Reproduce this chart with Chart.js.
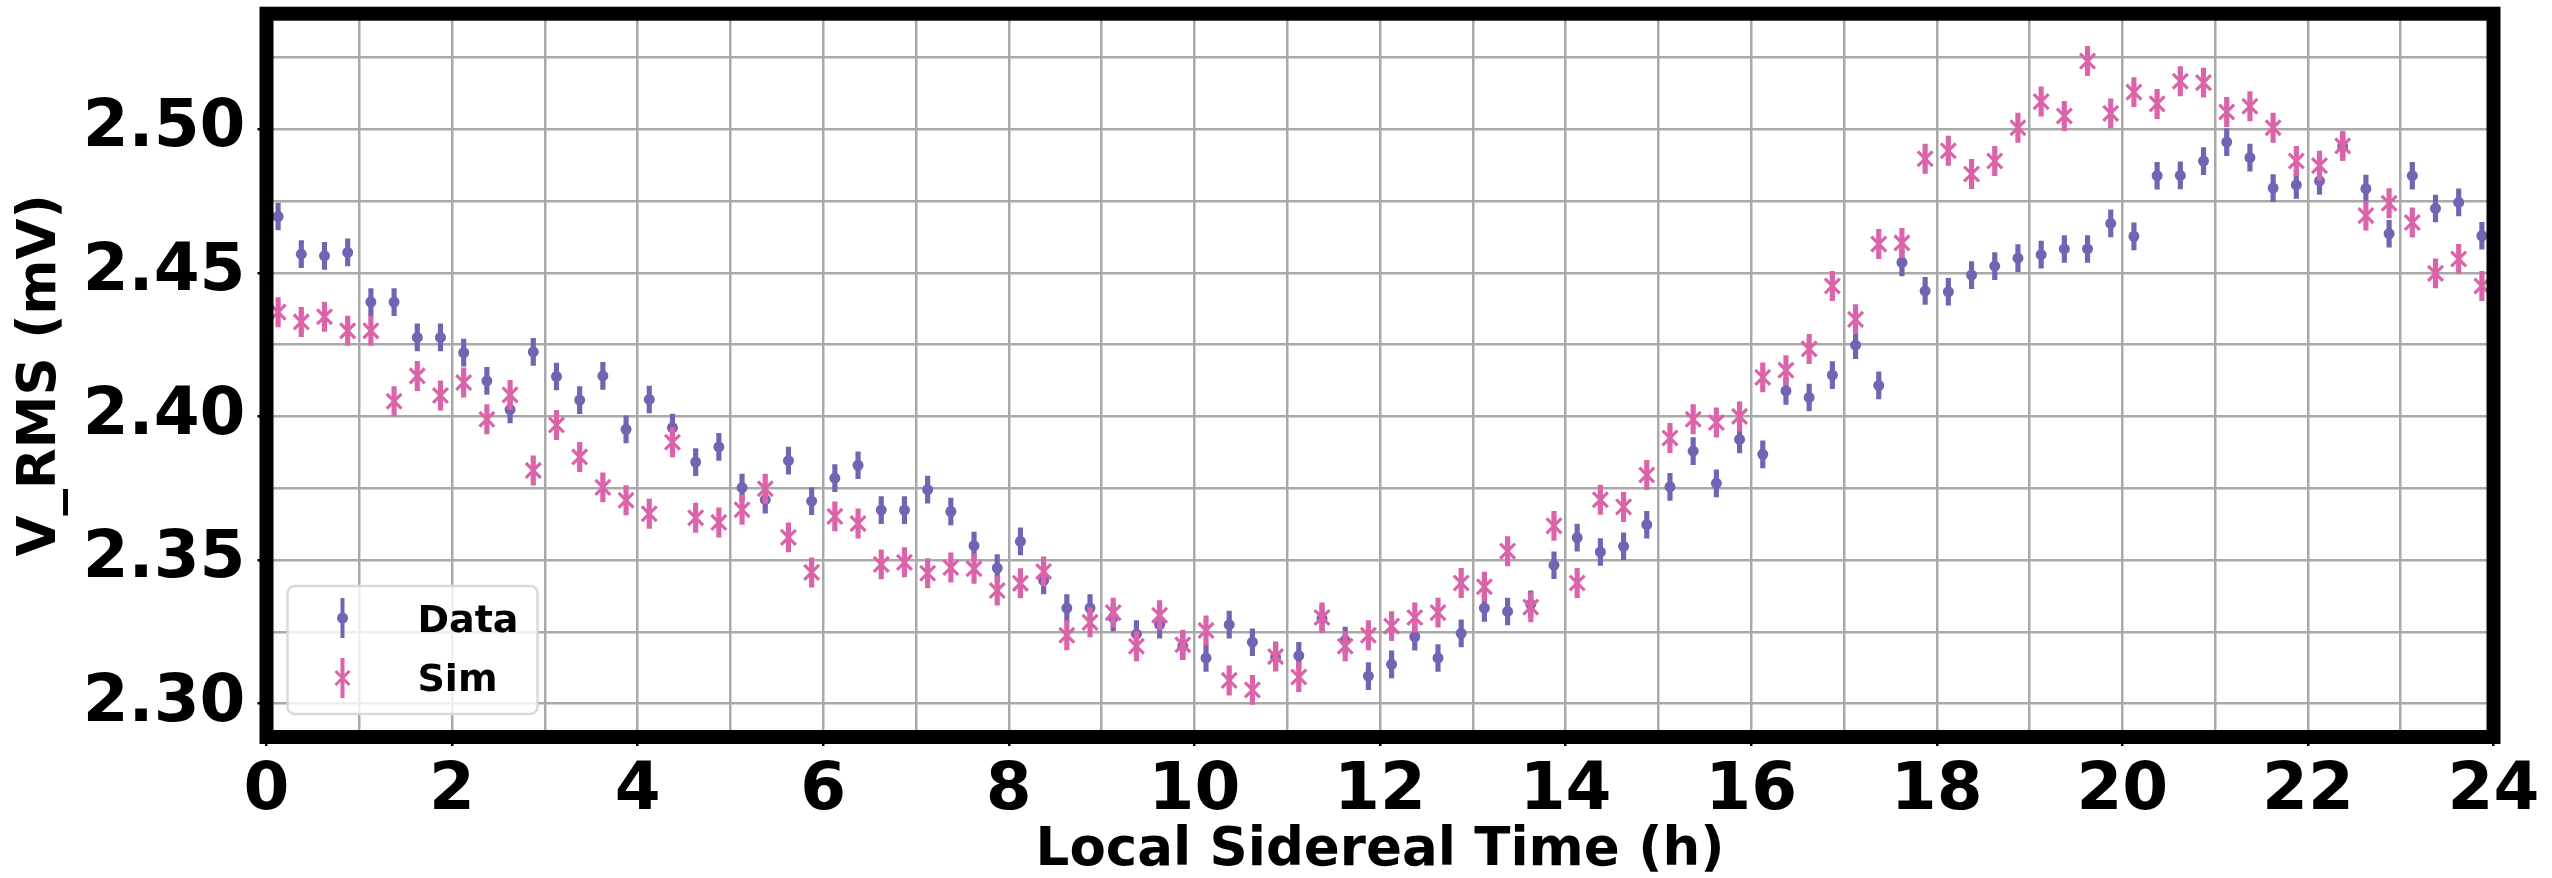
<!DOCTYPE html>
<html>
<head>
<meta charset="utf-8">
<script src="https://cdn.jsdelivr.net/npm/chart.js@4.4.1/dist/chart.umd.min.js"></script>
<style>
  html, body { margin: 0; padding: 0; background: #ffffff; overflow: hidden; }
  #wrap { width: 2552px; height: 878px; position: relative; }
</style>
</head>
<body>
<div id="wrap"><canvas id="c" width="2552" height="878"></canvas></div>
<script>
// Local sidereal time of each bin centre (hours)
const lstHours = [
  0.125, 0.375, 0.625, 0.875, 1.125, 1.375, 1.625, 1.875,
  2.125, 2.375, 2.625, 2.875, 3.125, 3.375, 3.625, 3.875,
  4.125, 4.375, 4.625, 4.875, 5.125, 5.375, 5.625, 5.875,
  6.125, 6.375, 6.625, 6.875, 7.125, 7.375, 7.625, 7.875,
  8.125, 8.375, 8.625, 8.875, 9.125, 9.375, 9.625, 9.875,
  10.125, 10.375, 10.625, 10.875, 11.125, 11.375, 11.625, 11.875,
  12.125, 12.375, 12.625, 12.875, 13.125, 13.375, 13.625, 13.875,
  14.125, 14.375, 14.625, 14.875, 15.125, 15.375, 15.625, 15.875,
  16.125, 16.375, 16.625, 16.875, 17.125, 17.375, 17.625, 17.875,
  18.125, 18.375, 18.625, 18.875, 19.125, 19.375, 19.625, 19.875,
  20.125, 20.375, 20.625, 20.875, 21.125, 21.375, 21.625, 21.875,
  22.125, 22.375, 22.625, 22.875, 23.125, 23.375, 23.625, 23.875
];

// Measured RMS voltage per bin (mV)
const vrmsData = [
  2.4696, 2.4565, 2.4559, 2.4571, 2.4398, 2.4398, 2.4275, 2.4275,
  2.4222, 2.4124, 2.4024, 2.4225, 2.4139, 2.4057, 2.4141, 2.3955,
  2.4059, 2.3961, 2.3841, 2.3894, 2.3752, 2.3710, 2.3846, 2.3705,
  2.3785, 2.3830, 2.3674, 2.3674, 2.3745, 2.3669, 2.3550, 2.3472,
  2.3565, 2.3429, 2.3333, 2.3333, 2.3300, 2.3242, 2.3275, 2.3200,
  2.3159, 2.3275, 2.3214, 2.3162, 2.3167, 2.3296, 2.3220, 2.3096,
  2.3137, 2.3233, 2.3159, 2.3245, 2.3333, 2.3321, 2.3346, 2.3482,
  2.3578, 2.3528, 2.3548, 2.3623, 2.3755, 2.3879, 2.3767, 2.3920,
  2.3868, 2.4089, 2.4066, 2.4144, 2.4248, 2.4108, 2.4536, 2.4437,
  2.4434, 2.4492, 2.4523, 2.4551, 2.4563, 2.4583, 2.4583, 2.4672,
  2.4627, 2.4838, 2.4839, 2.4889, 2.4955, 2.4901, 2.4795, 2.4806,
  2.4820, 2.4939, 2.4793, 2.4636, 2.4838, 2.4724, 2.4745, 2.4629
];

// Simulated RMS voltage per bin (mV)
const vrmsSim = [
  2.4363, 2.4329, 2.4347, 2.4298, 2.4298, 2.4053, 2.4141, 2.4073,
  2.4118, 2.3990, 2.4075, 2.3812, 2.3970, 2.3859, 2.3753, 2.3708,
  2.3661, 2.3910, 2.3647, 2.3631, 2.3675, 2.3748, 2.3579, 2.3457,
  2.3652, 2.3627, 2.3485, 2.3492, 2.3454, 2.3474, 2.3470, 2.3394,
  2.3419, 2.3460, 2.3238, 2.3283, 2.3317, 2.3200, 2.3308, 2.3205,
  2.3255, 2.3081, 2.3048, 2.3164, 2.3093, 2.3300, 2.3200, 2.3238,
  2.3270, 2.3300, 2.3317, 2.3420, 2.3407, 2.3531, 2.3336, 2.3619,
  2.3420, 2.3710, 2.3685, 2.3796, 2.3925, 2.3990, 2.3979, 2.4000,
  2.4136, 2.4161, 2.4235, 2.4454, 2.4338, 2.4600, 2.4604, 2.4897,
  2.4925, 2.4844, 2.4889, 2.5005, 2.5096, 2.5046, 2.5237, 2.5055,
  2.5129, 2.5088, 2.5167, 2.5162, 2.5060, 2.5080, 2.5005, 2.4889,
  2.4873, 2.4942, 2.4699, 2.4742, 2.4675, 2.4498, 2.4548, 2.4454
];

// One-sigma uncertainty of each series (mV)
const dataErr = 0.0047;
const simErr = 0.0051;

// Axis tick labels
const xTickLabels = [0, 2, 4, 6, 8, 10, 12, 14, 16, 18, 20, 22, 24];
const yTickLabels = [2.30, 2.35, 2.40, 2.45, 2.50];

const seriesNames = ['Data', 'Sim'];
const COLOR_DATA = '#7364b3';
const COLOR_SIM = '#db63a9';
const FONT = '"DejaVu Sans", "Liberation Sans", sans-serif';

const pointsOf = (vals) => lstHours.map((x, i) => ({ x: x, y: vals[i] }));
const barsOf = (vals, err) => lstHours.map((x, i) => ({ x: x, y: [vals[i] - err, vals[i] + err] }));

const isLabeled = (list, v) => list.some(t => Math.abs(t - v) < 1e-6);

// Black frame around the plotting area
const framePlugin = {
  id: 'frame',
  afterDatasetsDraw(chart) {
    const { ctx, chartArea: a } = chart;
    ctx.save();
    ctx.strokeStyle = '#000';
    ctx.lineWidth = 14;
    ctx.lineJoin = 'miter';
    ctx.strokeRect(a.left, a.top, a.right - a.left, a.bottom - a.top);
    ctx.restore();
  }
};

// Legend box inside the lower-left corner of the plot
const insetLegend = {
  id: 'insetLegend',
  afterDraw(chart) {
    const { ctx, chartArea: a } = chart;
    const w = 250, h = 128;
    const x = a.left + 21, y = a.bottom - 23 - h;
    ctx.save();
    ctx.beginPath();
    ctx.roundRect(x, y, w, h, 7);
    ctx.fillStyle = 'rgba(255,255,255,0.8)';
    ctx.fill();
    ctx.strokeStyle = 'rgba(214,214,214,0.9)';
    ctx.lineWidth = 2.5;
    ctx.stroke();

    const sx = x + 55;
    const rows = [y + 32, y + 92];
    // Data symbol: bar with dot
    ctx.fillStyle = COLOR_DATA;
    ctx.fillRect(sx - 2, rows[0] - 20, 4, 40);
    ctx.beginPath();
    ctx.arc(sx, rows[0], 5.5, 0, Math.PI * 2);
    ctx.fill();
    // Sim symbol: bar with x
    ctx.fillStyle = COLOR_SIM;
    ctx.fillRect(sx - 2, rows[1] - 20, 4, 40);
    ctx.strokeStyle = COLOR_SIM;
    ctx.lineWidth = 3;
    const r = 7;
    ctx.beginPath();
    ctx.moveTo(sx - r, rows[1] - r); ctx.lineTo(sx + r, rows[1] + r);
    ctx.moveTo(sx - r, rows[1] + r); ctx.lineTo(sx + r, rows[1] - r);
    ctx.stroke();

    ctx.fillStyle = '#000';
    ctx.font = 'bold 38px ' + FONT;
    ctx.textBaseline = 'alphabetic';
    ctx.textAlign = 'left';
    ctx.fillText(seriesNames[0], x + 130, rows[0] + 14);
    ctx.fillText(seriesNames[1], x + 130, rows[1] + 13);
    ctx.restore();
  }
};

const gridOpts = (labels) => ({
  color: '#a9a9a9',
  lineWidth: 2.5,
  drawTicks: true,
  tickLength: 9,
  tickWidth: 2.5,
  tickColor: (c) => (c.tick && isLabeled(labels, c.tick.value)) ? '#000' : 'rgba(0,0,0,0)'
});

new Chart(document.getElementById('c'), {
  type: 'scatter',
  data: {
    datasets: [
      {
        type: 'bar', label: seriesNames[0] + ' error', data: barsOf(vrmsData, dataErr),
        backgroundColor: COLOR_DATA, borderWidth: 0, barThickness: 4.5, grouped: false, order: 4
      },
      {
        type: 'scatter', label: seriesNames[0], data: pointsOf(vrmsData),
        pointStyle: 'circle', pointRadius: 5.5, backgroundColor: COLOR_DATA, borderWidth: 0, order: 3
      },
      {
        type: 'bar', label: seriesNames[1] + ' error', data: barsOf(vrmsSim, simErr),
        backgroundColor: COLOR_SIM, borderWidth: 0, barThickness: 4.5, grouped: false, order: 2
      },
      {
        type: 'scatter', label: seriesNames[1], data: pointsOf(vrmsSim),
        pointStyle: 'crossRot', pointRadius: 10.5, borderColor: COLOR_SIM, backgroundColor: COLOR_SIM,
        borderWidth: 3.2, order: 1
      }
    ]
  },
  options: {
    responsive: false,
    animation: false,
    devicePixelRatio: 1,
    layout: { padding: { top: 12.5, right: 58.5, bottom: 0, left: 0 } },
    plugins: { legend: { display: false }, tooltip: { enabled: false }, title: { display: false } },
    scales: {
      x: {
        type: 'linear', min: 0, max: 24, offset: false,
        grid: Object.assign({ offset: false }, gridOpts(xTickLabels)),
        border: { display: false },
        ticks: {
          stepSize: 1, autoSkip: false, maxRotation: 0, padding: 6, color: '#000',
          includeBounds: false,
          font: { family: FONT, size: 66, weight: 'bold' },
          callback: (v) => isLabeled(xTickLabels, v) ? String(Math.round(v)) : ''
        },
        title: {
          display: true, text: 'Local Sidereal Time (h)', color: '#000',
          font: { family: FONT, size: 53, weight: 'bold', lineHeight: 1.0 },
          padding: { top: 0, bottom: 0 }
        },
        afterFit: (s) => { s.height = 141; s.paddingLeft = 0; s.paddingRight = 0; }
      },
      y: {
        type: 'linear', min: 2.2884, max: 2.5402,
        grid: gridOpts(yTickLabels),
        border: { display: false },
        ticks: {
          stepSize: 0.025, autoSkip: false, padding: 12, color: '#000',
          includeBounds: false,
          font: { family: FONT, size: 66, weight: 'bold' },
          callback: (v) => isLabeled(yTickLabels, v) ? v.toFixed(2) : ''
        },
        title: {
          display: true, text: 'V_RMS (mV)', color: '#000',
          font: { family: FONT, size: 53, weight: 'bold', lineHeight: 1.1 },
          padding: { top: 12, bottom: 0 }
        },
        afterFit: (s) => { s.width = 266.5; s.paddingTop = 0; s.paddingBottom = 0; }
      }
    }
  },
  plugins: [framePlugin, insetLegend]
});
</script>
</body>
</html>
